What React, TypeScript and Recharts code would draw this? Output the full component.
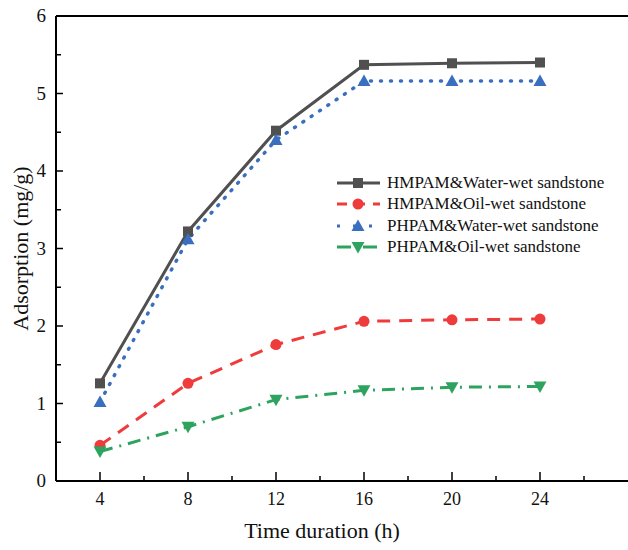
import { LineChart, Line, XAxis, YAxis, ReferenceLine } from 'recharts';

const hours = [4, 8, 12, 16, 20, 24];
const hmpamWater = [1.26, 3.22, 4.52, 5.37, 5.39, 5.4];
const hmpamOil = [0.46, 1.26, 1.76, 2.06, 2.08, 2.09];
const phpamWater = [1.02, 3.12, 4.4, 5.16, 5.16, 5.16];
const phpamOil = [0.38, 0.7, 1.05, 1.17, 1.21, 1.22];

const xTicks = [4, 6, 8, 10, 12, 14, 16, 18, 20, 22, 24, 26];
const yTicks = [0, 0.5, 1, 1.5, 2, 2.5, 3, 3.5, 4, 4.5, 5, 5.5, 6];

const data = hours.map((h, i) => ({
  h,
  hw: hmpamWater[i],
  ho: hmpamOil[i],
  pw: phpamWater[i],
  po: phpamOil[i],
}));

const FONT = '"Liberation Serif", "Times New Roman", serif';

const SERIES = [
  { key: 'hw', name: 'HMPAM&Water-wet sandstone', color: '#505050', dash: undefined, legendDash: undefined, shape: 'square', width: 3 },
  { key: 'ho', name: 'HMPAM&Oil-wet sandstone', color: '#ee3b3b', dash: '13 9', legendDash: '10 8', shape: 'circle', width: 3 },
  { key: 'pw', name: 'PHPAM&Water-wet sandstone', color: '#3a6fc0', dash: '1 9', legendDash: '3 13', shape: 'up', width: 3.5 },
  { key: 'po', name: 'PHPAM&Oil-wet sandstone', color: '#2ea35f', dash: '13 7 2 7', legendDash: '14 5 3 4', shape: 'down', width: 3 },
];

function Marker({ cx, cy, shape, color }: { cx: number; cy: number; shape: string; color: string }) {
  if (cx == null || cy == null) return null;
  if (shape === 'square') return <rect x={cx - 5} y={cy - 5} width={10} height={10} fill={color} />;
  if (shape === 'circle') return <circle cx={cx} cy={cy} r={5.5} fill={color} />;
  if (shape === 'up')
    return <polygon points={`${cx},${cy - 6.5} ${cx - 6.5},${cy + 5} ${cx + 6.5},${cy + 5}`} fill={color} />;
  return <polygon points={`${cx},${cy + 6.5} ${cx - 6.5},${cy - 5} ${cx + 6.5},${cy - 5}`} fill={color} />;
}

const XTick = ({ x, y, payload }: any) => {
  const major = payload.value % 4 === 0;
  return (
    <g>
      <line x1={x} x2={x} y1={y} y2={y - (major ? 9 : 5)} stroke="#000" strokeWidth={1.5} />
      {major && (
        <text x={x} y={y + 24} textAnchor="middle" fontSize={18} fontFamily={FONT} fill="#111">
          {payload.value}
        </text>
      )}
    </g>
  );
};

const YTick = ({ x, y, payload }: any) => {
  const major = payload.value % 1 === 0;
  return (
    <g>
      <line x1={x} x2={x + (major ? 7 : 5)} y1={y} y2={y} stroke="#000" strokeWidth={1.5} />
      {major && (
        <text x={x - 10} y={y + 6} textAnchor="end" fontSize={19} fontFamily={FONT} fill="#111">
          {payload.value}
        </text>
      )}
    </g>
  );
};

const LegendBox = () => (
  <div style={{ position: 'absolute', left: 333, top: 172, fontFamily: FONT, fontSize: 17, color: '#111' }}>
    {SERIES.map((s) => (
      <div key={s.key} style={{ display: 'flex', alignItems: 'center', height: 21.5, whiteSpace: 'nowrap' }}>
        <svg width={54} height={16}>
          <line x1={4} x2={47} y1={8} y2={8} stroke={s.color} strokeWidth={3} strokeDasharray={s.legendDash} />
          <Marker cx={25} cy={8} shape={s.shape} color={s.color} />
        </svg>
        <span>{s.name}</span>
      </div>
    ))}
  </div>
);

export default function App() {
  return (
    <div style={{ position: 'absolute', left: 0, top: 0, width: 628, height: 550, background: '#fff', overflow: 'hidden' }}>
      <LineChart width={628} height={550} data={data} margin={{ top: 16, right: 0, bottom: 0, left: 0 }}>
        <XAxis
          dataKey="h"
          type="number"
          domain={[2, 28]}
          ticks={xTicks}
          interval={0}
          tick={<XTick />}
          tickLine={false}
          tickSize={0}
          tickMargin={0}
          height={69}
          axisLine={{ stroke: '#000', strokeWidth: 2 }}
          label={{ value: 'Time duration (h)', position: 'insideBottom', offset: 12, dx: -20, fontSize: 22, fontFamily: FONT, fill: '#111' }}
        />
        <YAxis
          type="number"
          domain={[0, 6]}
          ticks={yTicks}
          interval={0}
          tick={<YTick />}
          tickLine={false}
          tickSize={0}
          tickMargin={0}
          width={56}
          axisLine={{ stroke: '#000', strokeWidth: 2 }}
          label={{ value: 'Adsorption (mg/g)', angle: -90, position: 'insideLeft', offset: 20, fontSize: 22, fontFamily: FONT, fill: '#111', style: { textAnchor: 'middle' } }}
        />
        <ReferenceLine y={6} stroke="#000" strokeWidth={2} />
        {SERIES.map((s) => (
          <Line
            key={s.key}
            dataKey={s.key}
            name={s.name}
            stroke={s.color}
            strokeWidth={s.width}
            strokeDasharray={s.dash}
            strokeLinecap={s.key === 'pw' ? 'round' : 'butt'}
            isAnimationActive={false}
            dot={(p: any) => <Marker key={`${s.key}-${p.index}`} cx={p.cx} cy={p.cy} shape={s.shape} color={s.color} />}
            activeDot={false}
          />
        ))}
      </LineChart>
      <LegendBox />
    </div>
  );
}
